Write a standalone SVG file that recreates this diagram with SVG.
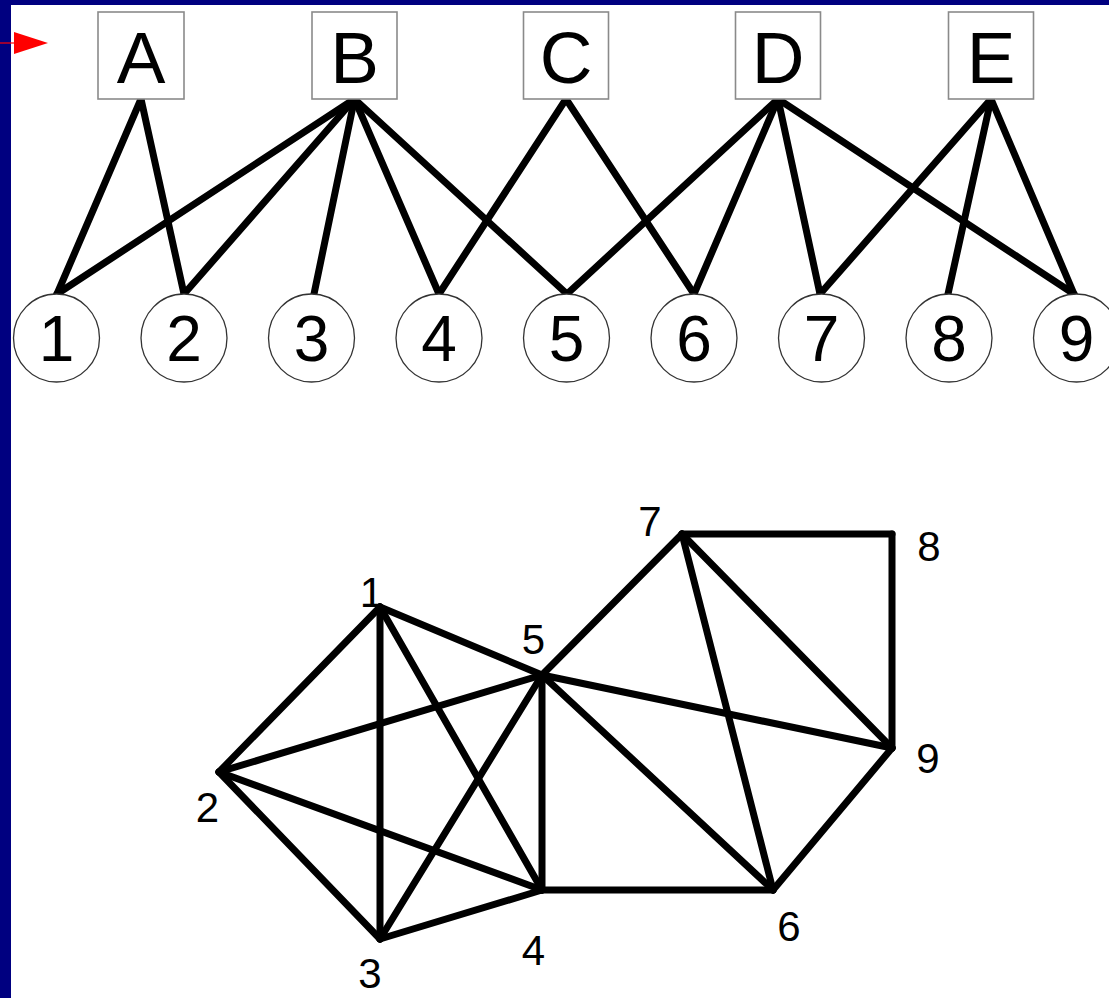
<svg xmlns="http://www.w3.org/2000/svg" width="1109" height="998" viewBox="0 0 1109 998">
<style>
.box{fill:#fff;stroke:#8a8a8a;stroke-width:1.6}
.circ{fill:#fff;stroke:#333;stroke-width:1.3}
.big{font-family:"Liberation Sans",Arial,sans-serif;font-size:73px;fill:#000;text-anchor:middle}
.num{font-family:"Liberation Sans",Arial,sans-serif;font-size:64px;fill:#000;text-anchor:middle}
.lbl{font-family:"Liberation Sans",Arial,sans-serif;font-size:42px;fill:#000;text-anchor:middle}
.e{stroke:#000;stroke-width:7;stroke-linecap:round;fill:none}
</style>
<rect x="0" y="0" width="1109" height="998" fill="#fff"/>
<rect x="0" y="0" width="1109" height="5" fill="#000080"/>
<rect x="0" y="0" width="11" height="998" fill="#000080"/>
<g id="pointer">
<line x1="0" y1="43" x2="15" y2="43" stroke="#f00" stroke-width="1.2"/>
<polygon points="14,32 48,43 14,54" fill="#f00"/>
</g>
<g id="connectors">
<line class="e" x1="141" y1="99" x2="57" y2="294"/>
<line class="e" x1="141" y1="99" x2="184" y2="294"/>
<line class="e" x1="354.5" y1="99" x2="57" y2="294"/>
<line class="e" x1="354.5" y1="99" x2="184" y2="294"/>
<line class="e" x1="354.5" y1="99" x2="314" y2="294"/>
<line class="e" x1="354.5" y1="99" x2="439" y2="294"/>
<line class="e" x1="354.5" y1="99" x2="567" y2="294"/>
<line class="e" x1="566" y1="99" x2="439" y2="294"/>
<line class="e" x1="566" y1="99" x2="694" y2="294"/>
<line class="e" x1="778" y1="99" x2="567" y2="294"/>
<line class="e" x1="778" y1="99" x2="694" y2="294"/>
<line class="e" x1="778" y1="99" x2="820" y2="294"/>
<line class="e" x1="778" y1="99" x2="1074" y2="294"/>
<line class="e" x1="991" y1="99" x2="820" y2="294"/>
<line class="e" x1="991" y1="99" x2="948" y2="294"/>
<line class="e" x1="991" y1="99" x2="1074" y2="294"/>
<line class="e" x1="380" y1="607" x2="219" y2="772"/>
<line class="e" x1="380" y1="607" x2="380" y2="939"/>
<line class="e" x1="380" y1="607" x2="542" y2="890"/>
<line class="e" x1="380" y1="607" x2="542" y2="675"/>
<line class="e" x1="219" y1="772" x2="542" y2="675"/>
<line class="e" x1="219" y1="772" x2="380" y2="939"/>
<line class="e" x1="219" y1="772" x2="542" y2="890"/>
<line class="e" x1="380" y1="939" x2="542" y2="675"/>
<line class="e" x1="380" y1="939" x2="542" y2="890"/>
<line class="e" x1="542" y1="890" x2="542" y2="675"/>
<line class="e" x1="542" y1="890" x2="773" y2="890"/>
<line class="e" x1="542" y1="675" x2="682" y2="534"/>
<line class="e" x1="542" y1="675" x2="773" y2="890"/>
<line class="e" x1="542" y1="675" x2="892" y2="748"/>
<line class="e" x1="682" y1="534" x2="892" y2="534"/>
<line class="e" x1="682" y1="534" x2="773" y2="890"/>
<line class="e" x1="682" y1="534" x2="892" y2="748"/>
<line class="e" x1="892" y1="534" x2="892" y2="748"/>
<line class="e" x1="892" y1="748" x2="773" y2="890"/>
</g>
<g id="box-A"><rect class="box" x="98" y="12" width="86" height="87"/><text class="big" x="141" y="83">A</text></g>
<g id="box-B"><rect class="box" x="312" y="12" width="85" height="87"/><text class="big" x="354.5" y="83">B</text></g>
<g id="box-C"><rect class="box" x="523.5" y="12" width="85" height="87"/><text class="big" x="566" y="83">C</text></g>
<g id="box-D"><rect class="box" x="735.5" y="12" width="85" height="87"/><text class="big" x="778" y="83">D</text></g>
<g id="box-E"><rect class="box" x="948.5" y="12" width="85" height="87"/><text class="big" x="991" y="83">E</text></g>
<g id="circle-1"><ellipse class="circ" cx="56.5" cy="338" rx="43" ry="44"/><text class="num" x="56.5" y="361">1</text></g>
<g id="circle-2"><ellipse class="circ" cx="184" cy="338" rx="43" ry="44"/><text class="num" x="184" y="361">2</text></g>
<g id="circle-3"><ellipse class="circ" cx="311.5" cy="338" rx="43" ry="44"/><text class="num" x="311.5" y="361">3</text></g>
<g id="circle-4"><ellipse class="circ" cx="439" cy="338" rx="43" ry="44"/><text class="num" x="439" y="361">4</text></g>
<g id="circle-5"><ellipse class="circ" cx="566.5" cy="338" rx="43" ry="44"/><text class="num" x="566.5" y="361">5</text></g>
<g id="circle-6"><ellipse class="circ" cx="694" cy="338" rx="43" ry="44"/><text class="num" x="694" y="361">6</text></g>
<g id="circle-7"><ellipse class="circ" cx="821.5" cy="338" rx="43" ry="44"/><text class="num" x="821.5" y="361">7</text></g>
<g id="circle-8"><ellipse class="circ" cx="949" cy="338" rx="43" ry="44"/><text class="num" x="949" y="361">8</text></g>
<g id="circle-9"><ellipse class="circ" cx="1076.5" cy="338" rx="43" ry="44"/><text class="num" x="1076.5" y="361">9</text></g>
<g id="vertex-1"><text class="lbl" x="371.5" y="607">1</text></g>
<g id="vertex-2"><text class="lbl" x="207.5" y="822">2</text></g>
<g id="vertex-3"><text class="lbl" x="370" y="988">3</text></g>
<g id="vertex-4"><text class="lbl" x="533.5" y="965">4</text></g>
<g id="vertex-5"><text class="lbl" x="533.5" y="654">5</text></g>
<g id="vertex-6"><text class="lbl" x="789" y="941">6</text></g>
<g id="vertex-7"><text class="lbl" x="650" y="536">7</text></g>
<g id="vertex-8"><text class="lbl" x="929" y="561">8</text></g>
<g id="vertex-9"><text class="lbl" x="928" y="773">9</text></g>
</svg>
